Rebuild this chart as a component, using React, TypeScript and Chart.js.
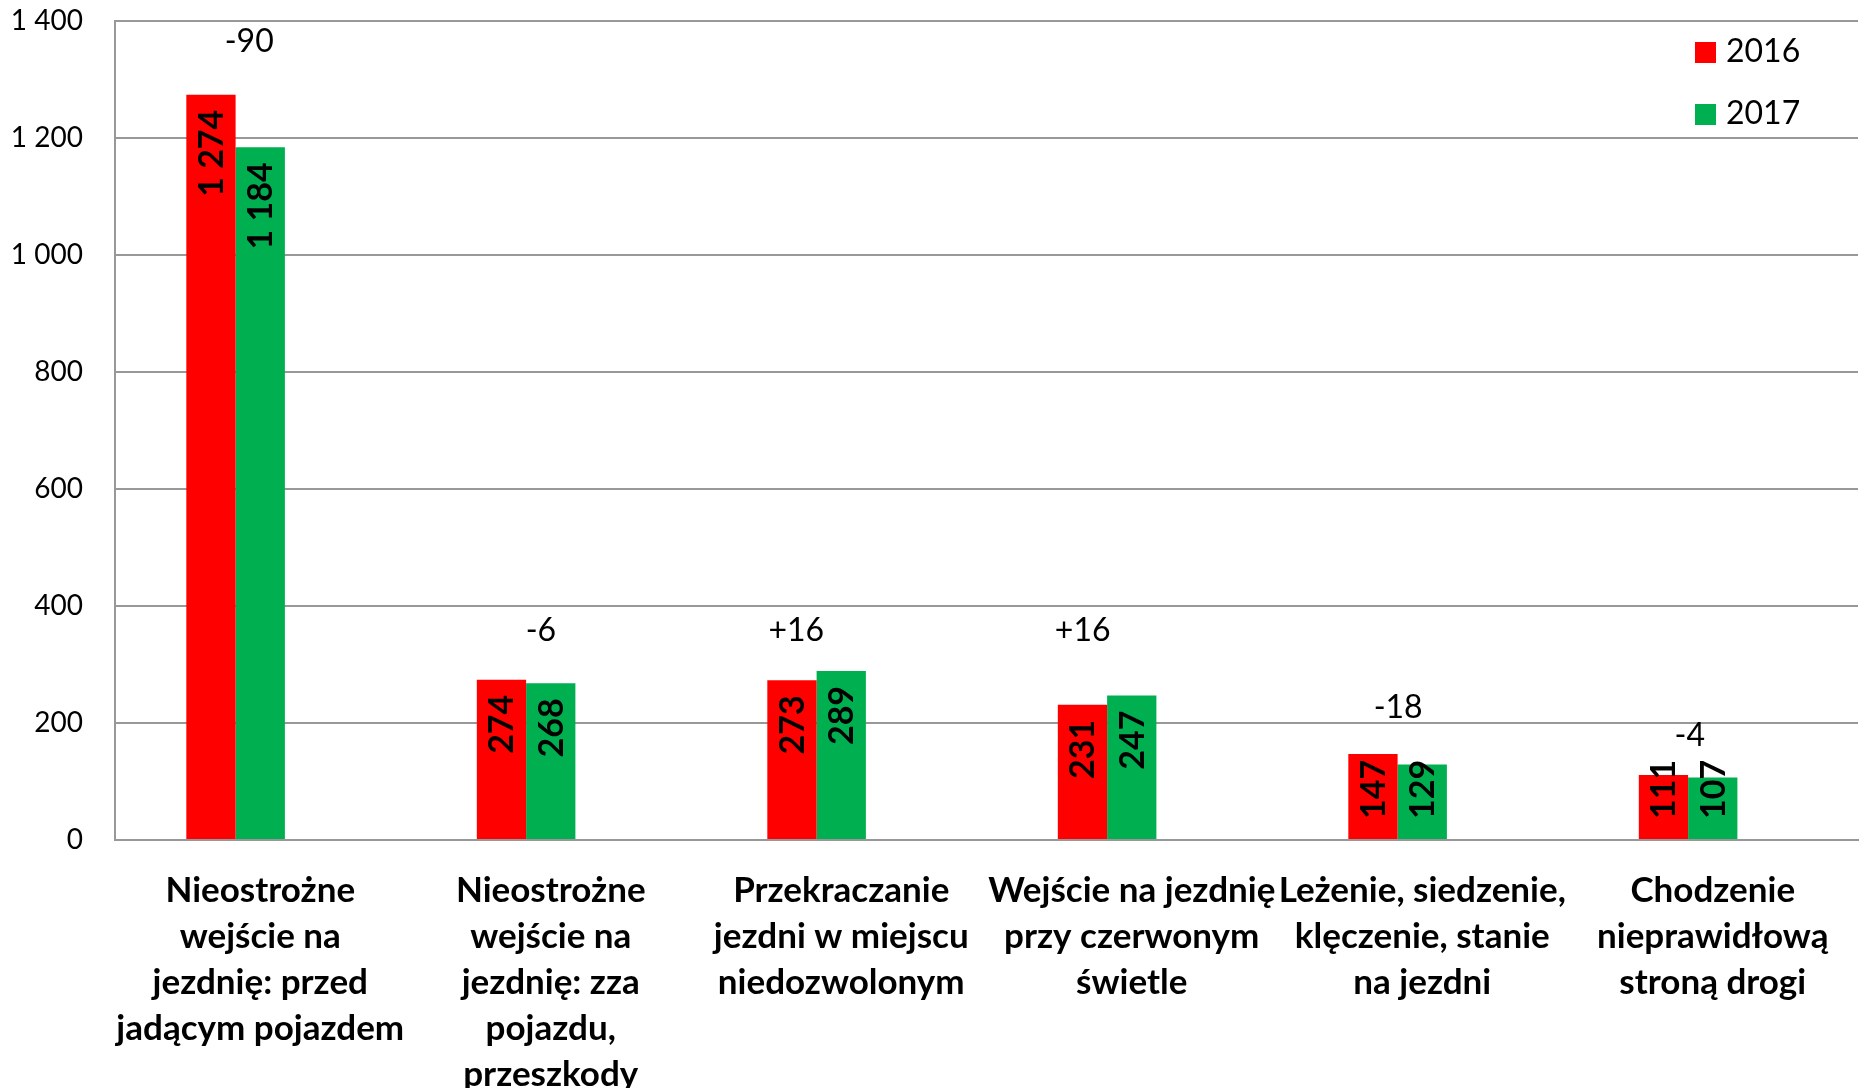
import React, { useEffect, useRef } from "react";
import { Chart, registerables } from "chart.js";

Chart.register(...registerables);

const categories: string[][] = [
  ["Nieostrożne", "wejście na", "jezdnię: przed", "jadącym pojazdem"],
  ["Nieostrożne", "wejście na", "jezdnię: zza", "pojazdu,", "przeszkody"],
  ["Przekraczanie", "jezdni w miejscu", "niedozwolonym"],
  ["Wejście na jezdnię", "przy czerwonym", "świetle"],
  ["Leżenie, siedzenie,", "klęczenie, stanie", "na jezdni"],
  ["Chodzenie", "nieprawidłową", "stroną drogi"],
];
const seriesNames = ["2016", "2017"];
const values2016 = [1274, 274, 273, 231, 147, 111];
const values2017 = [1184, 268, 289, 247, 129, 107];
const diffLabels = ["-90", "-6", "+16", "+16", "-18", "-4"];
const yTicks = [0, 200, 400, 600, 800, 1000, 1200, 1400];

const RED = "#FF0000";
const GREEN = "#00B050";
const GRID = "#989898";
const FONT = "Lato";

const fmt = (v: number) => String(v).replace(/\B(?=(\d{3})+(?!\d))/g, " ");

const valueLabelPlugin = {
  id: "valueLabels",
  afterDatasetsDraw(chart: any) {
    const ctx = chart.ctx;
    ctx.save();
    ctx.font = `bold 34px ${FONT}`;
    ctx.fillStyle = "#000";
    ctx.textAlign = "center";
    ctx.textBaseline = "middle";
    [0, 1].forEach((di) => {
      const meta = chart.getDatasetMeta(di);
      const data = chart.data.datasets[di].data as number[];
      meta.data.forEach((bar: any, i: number) => {
        const text = fmt(data[i]);
        const L = ctx.measureText(text).width;
        let top = bar.y + 15;
        const maxBottom = bar.base - 20;
        if (top + L > maxBottom) top = maxBottom - L;
        const cy = top + L / 2;
        ctx.save();
        ctx.translate(bar.x + 1, cy);
        ctx.rotate(-Math.PI / 2);
        ctx.fillText(text, 0, 0);
        ctx.restore();
      });
    });
    ctx.restore();
  },
};

const diffLabelPlugin = {
  id: "diffLabels",
  afterDatasetsDraw(chart: any, _args: any, opts: any) {
    const ctx = chart.ctx;
    const xs = chart.scales.x;
    const ys = chart.scales.y;
    const catW = xs.width / categories.length;
    ctx.save();
    ctx.font = `32px ${FONT}`;
    ctx.fillStyle = "#000";
    ctx.textAlign = "center";
    ctx.textBaseline = "middle";
    diffLabels.forEach((t, i) => {
      const x = xs.getPixelForValue(i) + opts.dx[i] * catW;
      const y = ys.getPixelForValue(opts.yAt[i]);
      ctx.fillText(t, x, y);
    });
    ctx.restore();
  },
};

const legendPlugin = {
  id: "customLegend",
  afterDraw(chart: any) {
    const ctx = chart.ctx;
    const colors = [RED, GREEN];
    ctx.save();
    ctx.font = `32px ${FONT}`;
    ctx.textAlign = "left";
    ctx.textBaseline = "middle";
    seriesNames.forEach((name, i) => {
      const cy = 52 + i * 62;
      ctx.fillStyle = colors[i];
      ctx.fillRect(1695, cy - 10, 21, 21);
      ctx.fillStyle = "#000";
      ctx.fillText(name, 1726, cy);
    });
    ctx.restore();
  },
};

export default function App() {
  const ref = useRef<HTMLCanvasElement | null>(null);
  useEffect(() => {
    if (!ref.current) return;
    const chart = new Chart(ref.current, {
      type: "bar",
      data: {
        labels: categories,
        datasets: [
          { label: seriesNames[0], data: values2016, backgroundColor: RED },
          { label: seriesNames[1], data: values2017, backgroundColor: GREEN },
          { label: "", data: categories.map(() => null), backgroundColor: "rgba(0,0,0,0)" },
        ],
      },
      options: {
        animation: false,
        responsive: false,
        devicePixelRatio: 1,
        layout: { padding: { top: 21, right: 4, left: 0, bottom: 0 } },
        datasets: { bar: { categoryPercentage: 0.509, barPercentage: 1 } },
        plugins: {
          legend: { display: false },
          tooltip: { enabled: false },
          diffLabels: {
            dx: [-0.038, -0.034, -0.155, -0.169, -0.083, -0.079],
            yAt: [1365, 357, 357, 357, 227, 178],
          },
        } as any,
        scales: {
          x: {
            grid: { display: false },
            border: { display: true, color: GRID, width: 2 },
            ticks: {
              color: "#000",
              font: { family: FONT, size: 35, weight: "bold", lineHeight: 46 / 35 },
              maxRotation: 0,
              minRotation: 0,
              autoSkip: false,
              padding: 20,
            },
            afterFit: (s: any) => {
              s.height = 1088 - 840;
              s.paddingLeft = 0;
              s.paddingRight = 0;
            },
          },
          y: {
            min: 0,
            max: 1400,
            afterBuildTicks: (s: any) => {
              s.ticks = yTicks.map((v) => ({ value: v }));
            },
            grid: { color: GRID, lineWidth: 2, drawTicks: false },
            border: { display: true, color: GRID, width: 2 },
            ticks: {
              color: "#000",
              font: { family: FONT, size: 28 },
              padding: 32,
              callback: (v: any) => fmt(Number(v)),
            },
            afterFit: (s: any) => {
              s.width = 115;
              s.paddingTop = 0;
              s.paddingBottom = 0;
            },
          },
        },
      },
      plugins: [valueLabelPlugin, diffLabelPlugin, legendPlugin],
    });
    return () => chart.destroy();
  }, []);
  return (
    <canvas
      ref={ref}
      width={1862}
      height={1088}
      style={{ position: "absolute", left: 0, top: 0, width: 1862, height: 1088 }}
    />
  );
}
